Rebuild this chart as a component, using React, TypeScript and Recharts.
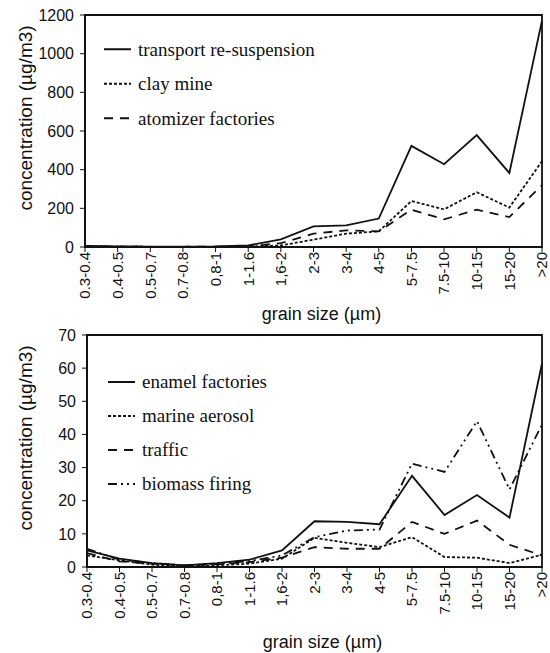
import { LineChart, Line, XAxis, YAxis, ReferenceArea } from "recharts";

const grainSizes = [
  "0.3-0.4", "0.4-0.5", "0.5-0.7", "0.7-0.8", "0,8-1", "1-1.6", "1,6-2", "2-3",
  "3-4", "4-5", "5-7.5", "7.5-10", "10-15", "15-20", ">20",
];

// top panel (µg/m3)
const transport = [6, 3, 2, 2, 3, 8, 40, 107, 112, 147, 523, 428, 579, 383, 1171];
const clayMine = [3, 2, 1, 1, 1, 2, 8, 38, 69, 81, 238, 195, 283, 204, 444];
const atomizer = [4, 2, 1, 1, 2, 3, 20, 69, 86, 81, 193, 143, 193, 155, 320];

// bottom panel (µg/m3)
const enamel = [5, 2.5, 1.2, 0.5, 1.2, 2.2, 5, 13.8, 13.6, 12.9, 27.5, 15.7, 21.7, 14.9, 61.4];
const marine = [3.5, 2, 0.7, 0.2, 0.5, 1, 2.5, 8.8, 7.3, 6, 9, 3, 2.8, 1.2, 3.7];
const traffic = [4.2, 1.7, 1, 0.5, 0.8, 1.5, 2.8, 6, 5.5, 5.5, 13.6, 10, 14, 6.7, 3.5];
const biomass = [5.5, 2.2, 1.2, 0.5, 1, 1.8, 3.5, 9, 11, 11.3, 31.2, 28.7, 44, 23.4, 43];

const topTicks = [0, 200, 400, 600, 800, 1000, 1200];
const bottomTicks = [0, 10, 20, 30, 40, 50, 60, 70];

const INK = "#111";
const SANS = "'Liberation Sans', Arial, sans-serif";
const SERIF = "'Liberation Serif', 'Times New Roman', serif";

type Series = { key: string; name: string; values: number[]; dash?: string };

const topSeries: Series[] = [
  { key: "transport", name: "transport re-suspension", values: transport },
  { key: "clay", name: "clay mine", values: clayMine, dash: "3 2" },
  { key: "atomizer", name: "atomizer factories", values: atomizer, dash: "9 7" },
];

const bottomSeries: Series[] = [
  { key: "enamel", name: "enamel factories", values: enamel },
  { key: "marine", name: "marine aerosol", values: marine, dash: "3 2" },
  { key: "traffic", name: "traffic", values: traffic, dash: "9 7" },
  { key: "biomass", name: "biomass firing", values: biomass, dash: "9 4 2 4 2 4" },
];

const toRows = (series: Series[]) =>
  grainSizes.map((g, i) => {
    const row: Record<string, string | number> = { size: g };
    series.forEach((s) => (row[s.key] = s.values[i]));
    return row;
  });

function GrainTick({ x, y, payload }: any) {
  return (
    <g transform={`translate(${x},${y})`}>
      <text
        transform="rotate(-90)"
        textAnchor="end"
        dy="0.36em"
        fill={INK}
        style={{ fontFamily: SANS, fontSize: 15 }}
      >
        {payload.value}
      </text>
    </g>
  );
}

// legend drawn inside the plot, top-left
function InsideLegend({ series, rowGap, top, left }: { series: Series[]; rowGap: number; top: number; left: number }) {
  return (
    <svg
      width={260}
      height={series.length * rowGap}
      style={{ position: "absolute", top, left, pointerEvents: "none" }}
    >
      {series.map((s, i) => {
        const cy = i * rowGap + rowGap / 2;
        return (
          <g key={s.key}>
            <line x1={0} x2={27} y1={cy} y2={cy} stroke={INK} strokeWidth={2} strokeDasharray={s.dash} />
            <text x={34} y={cy} dy="0.33em" fill={INK} style={{ fontFamily: SERIF, fontSize: 19 }}>
              {s.name}
            </text>
          </g>
        );
      })}
    </svg>
  );
}

function Panel({
  series, ticks, max, height, yAxisWidth, labelY,
}: {
  series: Series[]; ticks: number[]; max: number; height: number; yAxisWidth: number; labelY: number;
}) {
  const axisStyle = { stroke: INK, strokeWidth: 1.8 };
  return (
    <LineChart
      width={550}
      height={height}
      data={toRows(series)}
      margin={{ top: 15, right: 8, left: 0, bottom: 0 }}
    >
      <XAxis
        dataKey="size"
        interval={0}
        height={height - 15 - 232}
        tick={<GrainTick />}
        tickSize={5}
        tickMargin={0}
        axisLine={axisStyle}
        tickLine={{ stroke: INK }}
        padding={{ left: 0, right: 0 }}
        label={{
          value: "grain size (µm)",
          position: "insideBottom",
          offset: 5,
          dx: 8,
          fill: INK,
          style: { fontFamily: SANS, fontSize: 18 },
        }}
      />
      <YAxis
        domain={[0, max]}
        ticks={ticks}
        width={yAxisWidth}
        tickSize={5}
        tickMargin={6}
        axisLine={axisStyle}
        tickLine={{ stroke: INK }}
        tick={{ fill: INK, fontFamily: SANS, fontSize: 16 }}
        label={{
          content: () => (
            <text
              transform={`translate(25,${labelY}) rotate(-90)`}
              textAnchor="middle"
              dy="0.35em"
              fill={INK}
              style={{ fontFamily: SANS, fontSize: 19 }}
            >
              concentration (µg/m3)
            </text>
          ),
        }}
      />
      <ReferenceArea
        x1={grainSizes[0]}
        x2={grainSizes[grainSizes.length - 1]}
        y1={0}
        y2={max}
        fill="none"
        stroke={INK}
        strokeWidth={1.8}
        ifOverflow="visible"
      />
      {series.map((s) => (
        <Line
          key={s.key}
          dataKey={s.key}
          name={s.name}
          stroke={INK}
          strokeWidth={1.8}
          strokeDasharray={s.dash}
          dot={false}
          activeDot={false}
          isAnimationActive={false}
        />
      ))}
    </LineChart>
  );
}

export default function App() {
  return (
    <div style={{ position: "absolute", left: 0, top: 0, width: 550, height: 653, background: "#fff" }}>
      <div style={{ position: "absolute", left: 0, top: 0 }}>
        <Panel series={topSeries} ticks={topTicks} max={1200} height={325} yAxisWidth={85} labelY={118} />
        <InsideLegend series={topSeries} rowGap={34.5} top={32} left={104} />
      </div>
      <div style={{ position: "absolute", left: 0, top: 320 }}>
        <Panel series={bottomSeries} ticks={bottomTicks} max={70} height={333} yAxisWidth={87} labelY={118} />
        <InsideLegend series={bottomSeries} rowGap={34} top={45} left={108} />
      </div>
    </div>
  );
}
